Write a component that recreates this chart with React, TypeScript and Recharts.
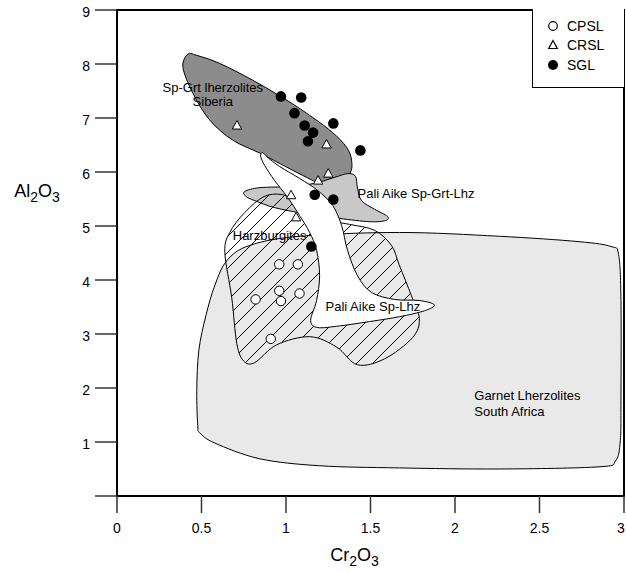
import React from 'react'
import { ScatterChart, Scatter, XAxis, YAxis, ReferenceArea, Legend } from 'recharts'

const FONT = '"Liberation Sans", Arial, Helvetica, sans-serif'

const xTicks = [0, 0.5, 1, 1.5, 2, 2.5, 3]
const yTicks = [0, 1, 2, 3, 4, 5, 6, 7, 8, 9]

// samples: [Cr2O3, Al2O3]
const cpsl = [
  [0.96, 4.29], [1.07, 4.29], [0.96, 3.8], [1.08, 3.75], [0.82, 3.64], [0.97, 3.61], [0.91, 2.91],
]
const crsl = [
  [0.71, 6.86], [1.24, 6.51], [1.25, 5.97], [1.19, 5.84], [1.03, 5.57], [1.06, 5.16],
]
const sgl = [
  [0.97, 7.4], [1.09, 7.38], [1.05, 7.09], [1.28, 6.9], [1.11, 6.86], [1.16, 6.73],
  [1.13, 6.57], [1.44, 6.4], [1.17, 5.58], [1.28, 5.49], [1.15, 4.62],
]

// field outlines
const garnetLherzolites = [
  [0.478, 1.3], [0.472, 1.95], [0.484, 2.69], [0.526, 3.34], [0.579, 3.9], [0.65, 4.36],
  [0.785, 4.64], [1.081, 4.81], [1.671, 4.88], [2.262, 4.81], [2.734, 4.71], [2.923, 4.62],
  [2.968, 4.47], [2.982, 3.62], [2.982, 1.76], [2.978, 1.02], [2.95, 0.65], [2.852, 0.54],
  [2.262, 0.5], [1.671, 0.52], [1.199, 0.56], [0.844, 0.69], [0.579, 0.98], [0.49, 1.17],
]
const harzburgites = [
  [0.638, 4.51], [0.679, 3.67], [0.709, 2.82], [0.75, 2.5], [0.815, 2.47], [0.945, 2.8],
  [1.14, 2.95], [1.299, 2.76], [1.423, 2.43], [1.583, 2.54], [1.748, 2.93], [1.789, 3.28],
  [1.742, 3.71], [1.671, 4.27], [1.624, 4.64], [1.524, 4.92], [1.376, 5.03], [1.199, 5.14],
  [1.081, 5.38], [0.992, 5.57], [0.874, 5.55], [0.756, 5.25], [0.667, 4.88],
]
const siberia = [
  [0.419, 8.18], [0.39, 7.94], [0.449, 7.46], [0.549, 6.96], [0.685, 6.59], [0.845, 6.35],
  [1.004, 6.09], [1.122, 5.9], [1.199, 5.79], [1.276, 5.75], [1.376, 5.97], [1.388, 6.22],
  [1.358, 6.46], [1.276, 6.73], [1.158, 7.01], [1.004, 7.33], [0.803, 7.7], [0.608, 8.01],
  [0.472, 8.16],
]
const paliAikeSpGrt = [
  [0.756, 5.64], [0.845, 5.71], [1.022, 5.73], [1.169, 5.79], [1.287, 5.9], [1.364, 5.97],
  [1.411, 5.92], [1.423, 5.7], [1.447, 5.47], [1.524, 5.31], [1.6, 5.18], [1.589, 5.1],
  [1.494, 5.08], [1.317, 5.14], [1.11, 5.23], [0.933, 5.34], [0.815, 5.47], [0.762, 5.55],
]
const paliAikeSpLhz = [
  [0.862, 6.36], [0.892, 6.27], [0.963, 6.1], [1.081, 5.88], [1.187, 5.66], [1.276, 5.38],
  [1.329, 5.01], [1.364, 4.55], [1.423, 4.08], [1.506, 3.77], [1.642, 3.64], [1.789, 3.62],
  [1.878, 3.54], [1.819, 3.43], [1.671, 3.32], [1.494, 3.23], [1.317, 3.15], [1.187, 3.12],
  [1.146, 3.25], [1.181, 3.62], [1.199, 4.08], [1.181, 4.55], [1.14, 4.88], [1.081, 5.19],
  [1.01, 5.53], [0.933, 5.84], [0.874, 6.12], [0.85, 6.29],
]

const fieldLabels = [
  { x: 0.567, y: 7.57, text: 'Sp-Grt lherzolites', anchor: 'middle' },
  { x: 0.567, y: 7.31, text: 'Siberia', anchor: 'middle' },
  { x: 1.423, y: 5.6, text: 'Pali Aike Sp-Grt-Lhz', anchor: 'start' },
  { x: 0.685, y: 4.82, text: 'Harzburgites', anchor: 'start' },
  { x: 1.234, y: 3.51, text: 'Pali Aike Sp-Lhz', anchor: 'start' },
  { x: 2.114, y: 1.855, text: 'Garnet Lherzolites', anchor: 'start' },
  { x: 2.114, y: 1.558, text: 'South Africa', anchor: 'start' },
]

const legendItems = ['CPSL', 'CRSL', 'SGL']

const toXY = (a: number[][]) => a.map(([x, y]) => ({ x, y }))

// closed catmull-rom through the outline points
function smoothPath(pts: { x: number; y: number }[]) {
  const n = pts.length
  let d = `M${pts[0].x},${pts[0].y}`
  for (let i = 0; i < n; i++) {
    const p0 = pts[(i - 1 + n) % n]
    const p1 = pts[i]
    const p2 = pts[(i + 1) % n]
    const p3 = pts[(i + 2) % n]
    d += ` C${p1.x + (p2.x - p0.x) / 6},${p1.y + (p2.y - p0.y) / 6} ${p2.x - (p3.x - p1.x) / 6},${p2.y - (p3.y - p1.y) / 6} ${p2.x},${p2.y}`
  }
  return d + 'Z'
}

const field = (fill: string) => (props: any) => (
  <path d={smoothPath(props.points)} fill={fill} stroke="#000" strokeWidth={1} />
)

const hatchedField = (props: any) => (
  <g>
    <defs>
      <pattern id="hatch" patternUnits="userSpaceOnUse" width={16} height={16}>
        <path d="M0,16 L16,0 M-4,4 L4,-4 M12,20 L20,12" stroke="#000" strokeWidth={1} />
      </pattern>
    </defs>
    <path d={smoothPath(props.points)} fill="url(#hatch)" stroke="#000" strokeWidth={1} />
  </g>
)

const noDot = () => <g />

const openCircle = (p: any) => <circle cx={p.cx} cy={p.cy} r={4.7} fill="#fff" stroke="#000" strokeWidth={1} />
const triangle = (p: any) => (
  <path d={`M${p.cx},${p.cy - 5}L${p.cx + 4.7},${p.cy + 3.5}L${p.cx - 4.7},${p.cy + 3.5}Z`} fill="#fff" stroke="#000" strokeWidth={1} />
)
const solidDot = (p: any) => <circle cx={p.cx} cy={p.cy} r={5.3} fill="#000" />

const fieldText = (p: any) => (
  <text x={p.cx} y={p.cy} dy="0.35em" textAnchor={p.payload.anchor} fontSize={13} fontFamily={FONT} fill="#000">
    {p.payload.text}
  </text>
)

const XTick = (p: any) => (
  <text x={Math.min(p.x, 621)} y={p.y} dy="0.71em" textAnchor="middle" fontSize={14} fontFamily={FONT} fill="#000">
    {p.payload.value}
  </text>
)

const YTick = (p: any) => (
  <text x={p.x} y={p.y + 2} dy="0.355em" textAnchor="end" fontSize={14} fontFamily={FONT} fill="#000">
    {p.payload.value === 0 ? '' : p.payload.value}
  </text>
)

const legendSymbol = (name: string) => {
  if (name === 'CPSL') return <circle cx={7} cy={7} r={4.3} fill="#fff" stroke="#000" strokeWidth={1.2} />
  if (name === 'CRSL') return <path d="M7,2.5 L11.3,10.5 L2.7,10.5 Z" fill="#fff" stroke="#000" strokeWidth={1.2} />
  return <circle cx={7} cy={7} r={5} fill="#000" />
}

const renderLegend = () => (
  <div style={{
    boxSizing: 'border-box', width: 92, height: 79, background: '#fff',
    borderLeft: '1.5px solid #000', borderBottom: '1.5px solid #000',
    paddingTop: 7, fontFamily: FONT, fontSize: 14, color: '#000',
  }}>
    {legendItems.map(name => (
      <div key={name} style={{ display: 'flex', alignItems: 'center', height: 19.5 }}>
        <svg width={14} height={14} style={{ marginLeft: 13 }}>{legendSymbol(name)}</svg>
        <span style={{ marginLeft: 7 }}>{name}</span>
      </div>
    ))}
  </div>
)

const xTitle = (props: any) => {
  const vb = props.viewBox
  return (
    <text x={vb.x + vb.width / 2 - 16} y={vb.y + 65} textAnchor="middle" fontSize={18} fontFamily={FONT} fill="#000">
      Cr<tspan fontSize={14} dy={5}>2</tspan><tspan dy={-5}>O</tspan><tspan fontSize={14} dy={5}>3</tspan>
    </text>
  )
}

const yTitle = () => (
  <text x={37} y={197} textAnchor="middle" fontSize={18} fontFamily={FONT} fill="#000">
    Al<tspan fontSize={14} dy={5}>2</tspan><tspan dy={-5}>O</tspan><tspan fontSize={14} dy={5}>3</tspan>
  </text>
)

export default function App() {
  return (
    <div style={{ position: 'absolute', left: 0, top: 0, background: '#fff' }}>
      <ScatterChart width={626} height={572} margin={{ top: 10, right: 2, bottom: 0, left: 0 }}>
        <XAxis
          type="number" dataKey="x" domain={[0, 3]} ticks={xTicks} interval={0} height={76}
          tickSize={17} tickMargin={10}
          axisLine={{ stroke: '#000', strokeWidth: 2 }}
          tickLine={{ stroke: '#333', strokeWidth: 1.5 }}
          tick={<XTick />}
          label={{ content: xTitle }}
        />
        <YAxis
          type="number" dataKey="y" domain={[0, 9]} ticks={yTicks} interval={0} width={117}
          tickSize={22} tickMargin={5}
          axisLine={{ stroke: '#000', strokeWidth: 2 }}
          tickLine={{ stroke: '#333', strokeWidth: 1.5 }}
          tick={<YTick />}
          label={{ content: yTitle }}
        />
        <Scatter name="garnet" data={toXY(garnetLherzolites)} shape={noDot} line={field('#e9e9e9')} legendType="none" isAnimationActive={false} />
        <Scatter name="siberia" data={toXY(siberia)} shape={noDot} line={field('#8c8c8c')} legendType="none" isAnimationActive={false} />
        <Scatter name="paliSpGrt" data={toXY(paliAikeSpGrt)} shape={noDot} line={field('#c8c8c8')} legendType="none" isAnimationActive={false} />
        <Scatter name="harz" data={toXY(harzburgites)} shape={noDot} line={hatchedField} legendType="none" isAnimationActive={false} />
        <Scatter name="paliSpLhz" data={toXY(paliAikeSpLhz)} shape={noDot} line={field('#fff')} legendType="none" isAnimationActive={false} />
        <Scatter name="CPSL" data={toXY(cpsl)} shape={openCircle} isAnimationActive={false} />
        <Scatter name="CRSL" data={toXY(crsl)} shape={triangle} isAnimationActive={false} />
        <Scatter name="SGL" data={toXY(sgl)} shape={solidDot} isAnimationActive={false} />
        <Scatter name="labels" data={fieldLabels} shape={fieldText} legendType="none" isAnimationActive={false} />
        <ReferenceArea x1={0} x2={3} y1={0} y2={9} fill="none" stroke="#000" strokeWidth={2} ifOverflow="visible" />
        <Legend
          layout="vertical" align="center" verticalAlign="middle" content={renderLegend}
          wrapperStyle={{ left: 532, top: 9, width: 92, height: 79 }}
        />
      </ScatterChart>
    </div>
  )
}
